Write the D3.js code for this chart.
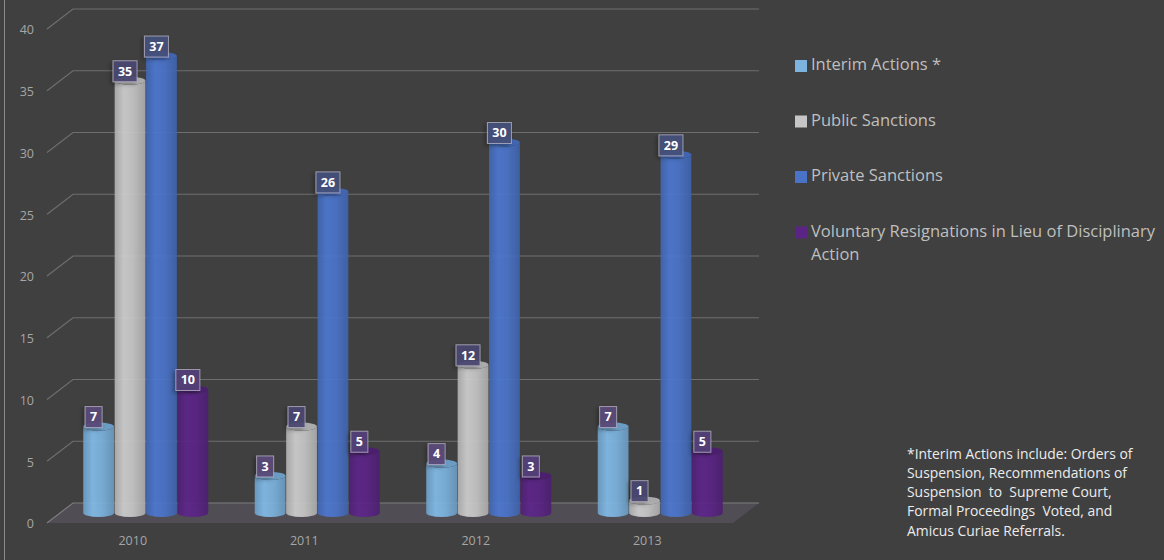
<!DOCTYPE html>
<html>
<head>
<meta charset="utf-8">
<script src="https://cdn.jsdelivr.net/npm/d3@7"></script>
<style>
  html, body { margin: 0; padding: 0; background: #404040; }
  svg { display: block; }
</style>
</head>
<body>
<svg id="chart" width="1164" height="560"></svg>
<script>
// Disciplinary outcomes per year
const years = ["2010", "2011", "2012", "2013"];
const seriesNames = [
  "Interim Actions *",
  "Public Sanctions",
  "Private Sanctions",
  "Voluntary Resignations in Lieu of Disciplinary Action"
];
const interimActions = [7, 3, 4, 7];
const publicSanctions = [35, 7, 12, 1];
const privateSanctions = [37, 26, 30, 29];
const voluntaryResignations = [10, 5, 3, 5];
const yTicks = [0, 5, 10, 15, 20, 25, 30, 35, 40];
const footnoteLines = [
  "*Interim Actions include: Orders of",
  "Suspension, Recommendations of",
  "Suspension  to  Supreme Court,",
  "Formal Proceedings  Voted, and",
  "Amicus Curiae Referrals."
];

const seriesValues = [interimActions, publicSanctions, privateSanctions, voluntaryResignations];
const colors = ["#7db4df", "#c6c6c6", "#4a73c8", "#5a2485"];
const topColors = ["#6ea4cf", "#b4b4b4", "#4268ba", "#4c1d72"];
const labelFills = ["#5a4a7a", "#4b4872", "#44507c", "#54407a"];

const svg = d3.select("#chart");
const defs = svg.append("defs");
const FONT = "'Open Sans', 'Noto Sans', sans-serif";

// 3D depth: the bars stand midway between the back wall and the front edge
const dx = 13, dy = 10;

const x0 = d3.scaleBand().domain(years).range([60, 746]).paddingInner(0.271).paddingOuter(0.1355);
const x1 = d3.scaleBand().domain(d3.range(4)).range([0, x0.bandwidth()]).paddingInner(0.02);
const y = d3.scaleLinear().domain([0, 40]).range([513, 19]);

// left frame line
svg.append("line").attr("x1", 4.5).attr("x2", 4.5).attr("y1", 0).attr("y2", 560)
  .attr("stroke", "#8a8a8a").attr("stroke-width", 1);

// floor
const [r0, r1] = x0.range();
svg.append("path")
  .attr("d", `M${r0 - dx},${y(0) + dy} L${r0 + dx},${y(0) - dy} L${r1 + dx},${y(0) - dy} L${r1 - dx},${y(0) + dy} Z`)
  .attr("fill", "#514d55");

// gridlines: diagonal on the side wall then along the back wall
const grid = svg.append("g");
yTicks.forEach(t => {
  const yy = y(t);
  grid.append("path")
    .attr("d", `M${r0 - dx},${yy + dy} L${r0 + dx},${yy - dy} L${r1 + dx},${yy - dy}`)
    .attr("fill", "none").attr("stroke", t === 0 ? "#7c7c7c" : "#6e6e6e").attr("stroke-width", 1.2);
  grid.append("text")
    .attr("x", 34).attr("y", yy + dy + 2)
    .attr("text-anchor", "end").attr("dominant-baseline", "middle")
    .attr("font-family", FONT).attr("font-size", 12.5).attr("fill", "#a6a6a6")
    .text(t);
});

// horizontal shading for each cylinder colour
colors.forEach((c, i) => {
  const g = defs.append("linearGradient").attr("id", "cyl" + i)
    .attr("x1", "0%").attr("x2", "100%").attr("y1", "0%").attr("y2", "0%");
  const base = d3.color(c);
  g.append("stop").attr("offset", "0%").attr("stop-color", base.darker(0.35));
  g.append("stop").attr("offset", "30%").attr("stop-color", base.brighter(0.12));
  g.append("stop").attr("offset", "60%").attr("stop-color", base);
  g.append("stop").attr("offset", "100%").attr("stop-color", base.darker(0.45));
});

const shadow = defs.append("filter").attr("id", "lblShadow")
  .attr("x", "-40%").attr("y", "-40%").attr("width", "180%").attr("height", "180%");
shadow.append("feDropShadow").attr("dx", -2).attr("dy", 2).attr("stdDeviation", 2)
  .attr("flood-color", "#000").attr("flood-opacity", 0.35);

// cylinders
const ry = 4;
const bars = svg.append("g");
years.forEach((yr, gi) => {
  seriesValues.forEach((vals, si) => {
    const v = vals[gi];
    const xl = x0(yr) + x1(si);
    const w = x1.bandwidth();
    const rx = w / 2;
    const yt = y(v), yb = y(0);
    const cyl = bars.append("g").attr("opacity", 0.93);
    cyl.append("path")
      .attr("d", `M${xl},${yt} L${xl},${yb} A${rx},${ry} 0 0 0 ${xl + w},${yb} L${xl + w},${yt} A${rx},${ry} 0 0 1 ${xl},${yt} Z`)
      .attr("fill", `url(#cyl${si})`);
    cyl.append("ellipse")
      .attr("cx", xl + rx).attr("cy", yt).attr("rx", rx).attr("ry", ry)
      .attr("fill", topColors[si]);
  });
});

// value labels
const labels = svg.append("g");
years.forEach((yr, gi) => {
  seriesValues.forEach((vals, si) => {
    const v = vals[gi];
    const cx = x0(yr) + x1(si) + x1.bandwidth() / 2 - 5;
    const bw = String(v).length > 1 ? 24 : 17;
    const bh = 21;
    const top = y(v) - bh + 1;
    const g = labels.append("g");
    g.append("rect")
      .attr("x", cx - bw / 2).attr("y", top).attr("width", bw).attr("height", bh)
      .attr("fill", labelFills[si]).attr("fill-opacity", 0.92)
      .attr("stroke", "#b9b5c6").attr("stroke-opacity", 0.75).attr("stroke-width", 1)
      .attr("filter", "url(#lblShadow)");
    g.append("text")
      .attr("x", cx).attr("y", top + bh / 2 + 1)
      .attr("text-anchor", "middle").attr("dominant-baseline", "middle")
      .attr("font-family", FONT).attr("font-weight", "bold").attr("font-size", 12.5)
      .attr("fill", "#ffffff")
      .text(v);
  });
});

// category labels along the front edge
years.forEach(yr => {
  svg.append("text")
    .attr("x", x0(yr) + x0.bandwidth() / 2 - dx).attr("y", 542)
    .attr("text-anchor", "middle").attr("dominant-baseline", "middle")
    .attr("font-family", FONT).attr("font-size", 12.5).attr("fill", "#a6a6a6")
    .text(yr);
});

// legend
const legendRows = [
  ["Interim Actions *"],
  ["Public Sanctions"],
  ["Private Sanctions"],
  ["Voluntary Resignations in Lieu of Disciplinary", "Action"]
];
const legend = svg.append("g");
legendRows.forEach((lines, i) => {
  const ly = 66 + i * 55.5;
  legend.append("rect").attr("x", 795).attr("y", ly - 6).attr("width", 12).attr("height", 12)
    .attr("fill", colors[i]);
  const t = legend.append("text")
    .attr("font-family", FONT).attr("font-size", 16.5).attr("fill", "#bfbfbf");
  lines.forEach((ln, k) => {
    t.append("tspan").attr("x", 811).attr("y", ly + k * 23)
      .attr("dominant-baseline", "middle").text(ln);
  });
});

// footnote
const foot = svg.append("text")
  .attr("font-family", FONT).attr("font-size", 13.9).attr("fill", "#ececec")
  .attr("xml:space", "preserve");
footnoteLines.forEach((ln, k) => {
  foot.append("tspan").attr("x", 907).attr("y", 455 + k * 19.2)
    .attr("dominant-baseline", "middle").style("white-space", "pre").text(ln);
});
</script>
</body>
</html>
